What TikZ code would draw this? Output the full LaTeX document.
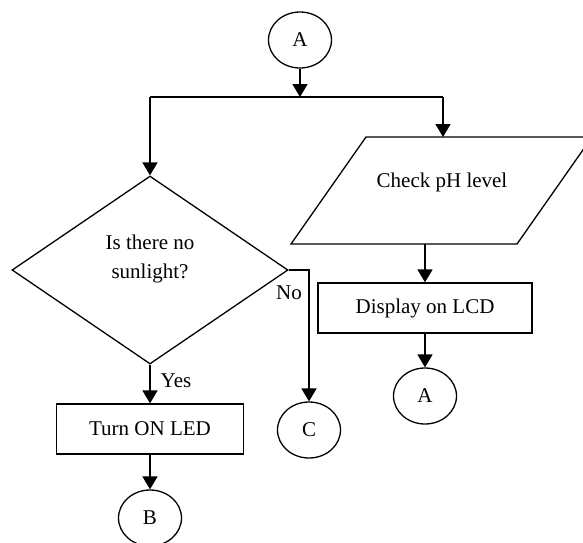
\documentclass[tikz,border=0pt]{standalone}
\usepackage{fontspec}
\setmainfont{Liberation Serif}
\usetikzlibrary{arrows.meta,shapes.geometric}
\begin{document}
\begin{tikzpicture}[x=1pt,y=-1pt,
  every node/.style={font=\fontsize{21}{29}\selectfont, inner sep=0pt},
  shp/.style={draw, line width=1.3pt},
  conn/.style={line width=1.7pt, -{Triangle[length=13pt,width=15pt]}},
  bar/.style={line width=1.7pt},
  conncirc/.style={shp, ellipse, minimum width=63pt, minimum height=56pt},
  procbox/.style={shp, rectangle, minimum height=50pt},
  decbox/.style={shp, diamond, minimum width=276pt, minimum height=188pt}]
\useasboundingbox (0,0) rectangle (583,542);
\clip (0,0) rectangle (583,542);

% top connector
\node[conncirc] (A1) at (300,40) {A};
\coordinate (jL) at (150,97);
\coordinate (jM) at (300,97);
\coordinate (jR) at (443,97);
\draw[conn] (A1.south) -- (jM);
\draw[bar] (jL) -- (jR);

% decision
\node[decbox] (dec) at (150,270) {};
\node (dectxt) at (150,258.5) [align=center] {Is there no\\sunlight?};
\draw[conn] (jL) -- (dec.north);

% input / output parallelogram
\coordinate (p1) at (291,244);
\coordinate (p2) at (517,244);
\coordinate (p3) at (592,137);
\coordinate (p4) at (366,137);
\draw[shp] (p1) -- (p2) -- (p3) -- (p4) -- cycle;
\node (chk) at (442,182) {Check pH level};
\coordinate (ptop) at (443,137);
\coordinate (pbot) at (425,244);
\draw[conn] (jR) -- (ptop);

% display
\node[procbox, minimum width=214pt] (lcd) at (425,308) {Display on LCD};
\draw[conn] (pbot) -- (lcd.north);
\node[conncirc] (A2) at (425,396) {A};
\draw[conn] (lcd.south) -- (A2.north);

% No branch
\node[conncirc] (C) at (309,430) {C};
\draw[conn] (dec.east) -| (C.north);
\node (no) at (289,292.5) {No};

% Yes branch
\node[procbox, minimum width=187pt] (led) at (150,429) {Turn ON LED};
\draw[conn] (dec.south) -- (led.north);
\node (yes) at (176,381) {Yes};
\node[conncirc] (B) at (150,518) {B};
\draw[conn] (led.south) -- (B.north);
\end{tikzpicture}
\end{document}
